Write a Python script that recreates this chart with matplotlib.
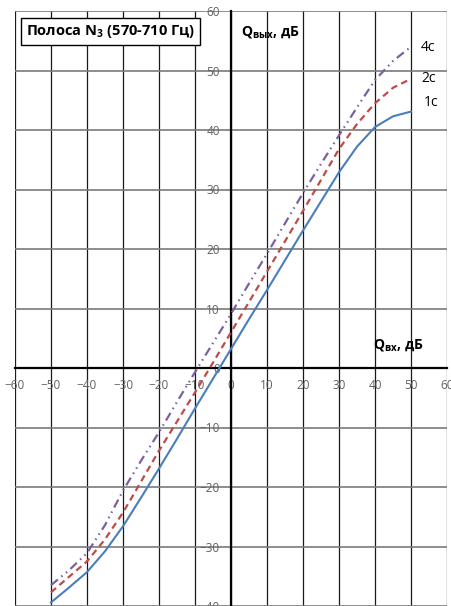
import matplotlib
matplotlib.use("Agg")
import matplotlib.pyplot as plt

plt.rcParams['font.family'] = ['Open Sans', 'DejaVu Sans']

# values
q_in = [-50, -45, -40, -35, -30, -25, -20, -15, -10, -5, 0,
        5, 10, 15, 20, 25, 30, 35, 40, 45, 50]
q_1c = [-39.4, -36.9, -34.3, -30.8, -26.6, -21.8, -16.9, -11.9, -6.8, -1.8, 3.2,
        8.2, 13.1, 18.1, 23.1, 28.0, 32.9, 37.2, 40.5, 42.3, 43.1]
q_2c = [-37.7, -35.1, -32.5, -28.8, -24.3, -19.1, -13.9, -9.0, -4.1, 0.9, 6.0,
        11.1, 16.2, 21.3, 26.4, 31.6, 36.8, 41.0, 44.5, 47.1, 48.6]
q_4c = [-36.5, -34.0, -31.1, -26.4, -20.6, -15.6, -10.8, -5.7, -0.7, 4.2, 9.1,
        14.2, 19.2, 24.3, 29.4, 34.3, 39.1, 43.8, 48.4, 51.6, 54.0]
x_ticks = list(range(-60, 61, 10))
y_ticks = list(range(-40, 61, 10))

fig = plt.figure(figsize=(4.52, 6.06), dpi=100)
ax = fig.add_axes([15/452, 0.0, 432/452, 595/606])

ax.set_xlim(-60, 60)
ax.set_ylim(-40, 60)
ax.set_xticks(x_ticks)
ax.set_yticks(y_ticks)

# grid: horizontal grey, vertical black (as in the excel picture)
ax.grid(axis='y', color='#7a7a7a', lw=1.2, zorder=0)
ax.grid(axis='x', color='#1a1a1a', lw=0.9, zorder=0)

ax.spines['left'].set_position('zero')
ax.spines['bottom'].set_position('zero')
ax.spines['top'].set_visible(False)
ax.spines['right'].set_visible(False)
ax.spines['left'].set_linewidth(1.6)
ax.spines['bottom'].set_linewidth(1.6)

ax.tick_params(axis='both', length=0, labelsize=8.5, labelcolor='#606060')
ax.tick_params(axis='y', pad=8)
ax.tick_params(axis='x', pad=8)

ax.plot(q_in, q_1c, color='#4a7ebb', lw=1.5, zorder=3)
ax.plot(q_in, q_2c, color='#be4b48', lw=1.6, dashes=(3, 2), zorder=3)
ax.plot(q_in, q_4c, color='#7d60a0', lw=1.6, dashes=(4, 2, 0.7, 2, 0.7, 2), zorder=3)

ax.text(54.8, 53.8, '4c', fontsize=10, ha='center', va='center')
ax.text(54.8, 48.6, '2c', fontsize=10, ha='center', va='center')
ax.text(55.6, 44.7, '1c', fontsize=10, ha='center', va='center')

ax.text(0.222, 0.966, r'Полоса N$_\mathregular{3}$ (570-710 Гц)', transform=ax.transAxes,
        fontsize=10.5, fontweight='bold', ha='center', va='center',
        bbox=dict(boxstyle='square,pad=0.35', fc='white', ec='black', lw=1), zorder=5)

ax.text(0.523, 0.965, r'Q$_\mathregular{вых}$, дБ', transform=ax.transAxes,
        fontsize=10, fontweight='bold', ha='left', va='center', zorder=5)
ax.text(0.829, 0.439, r'Q$_\mathregular{вх}$, дБ', transform=ax.transAxes,
        fontsize=10, fontweight='bold', ha='left', va='center', zorder=5)

plt.savefig('out.png', dpi=100)
